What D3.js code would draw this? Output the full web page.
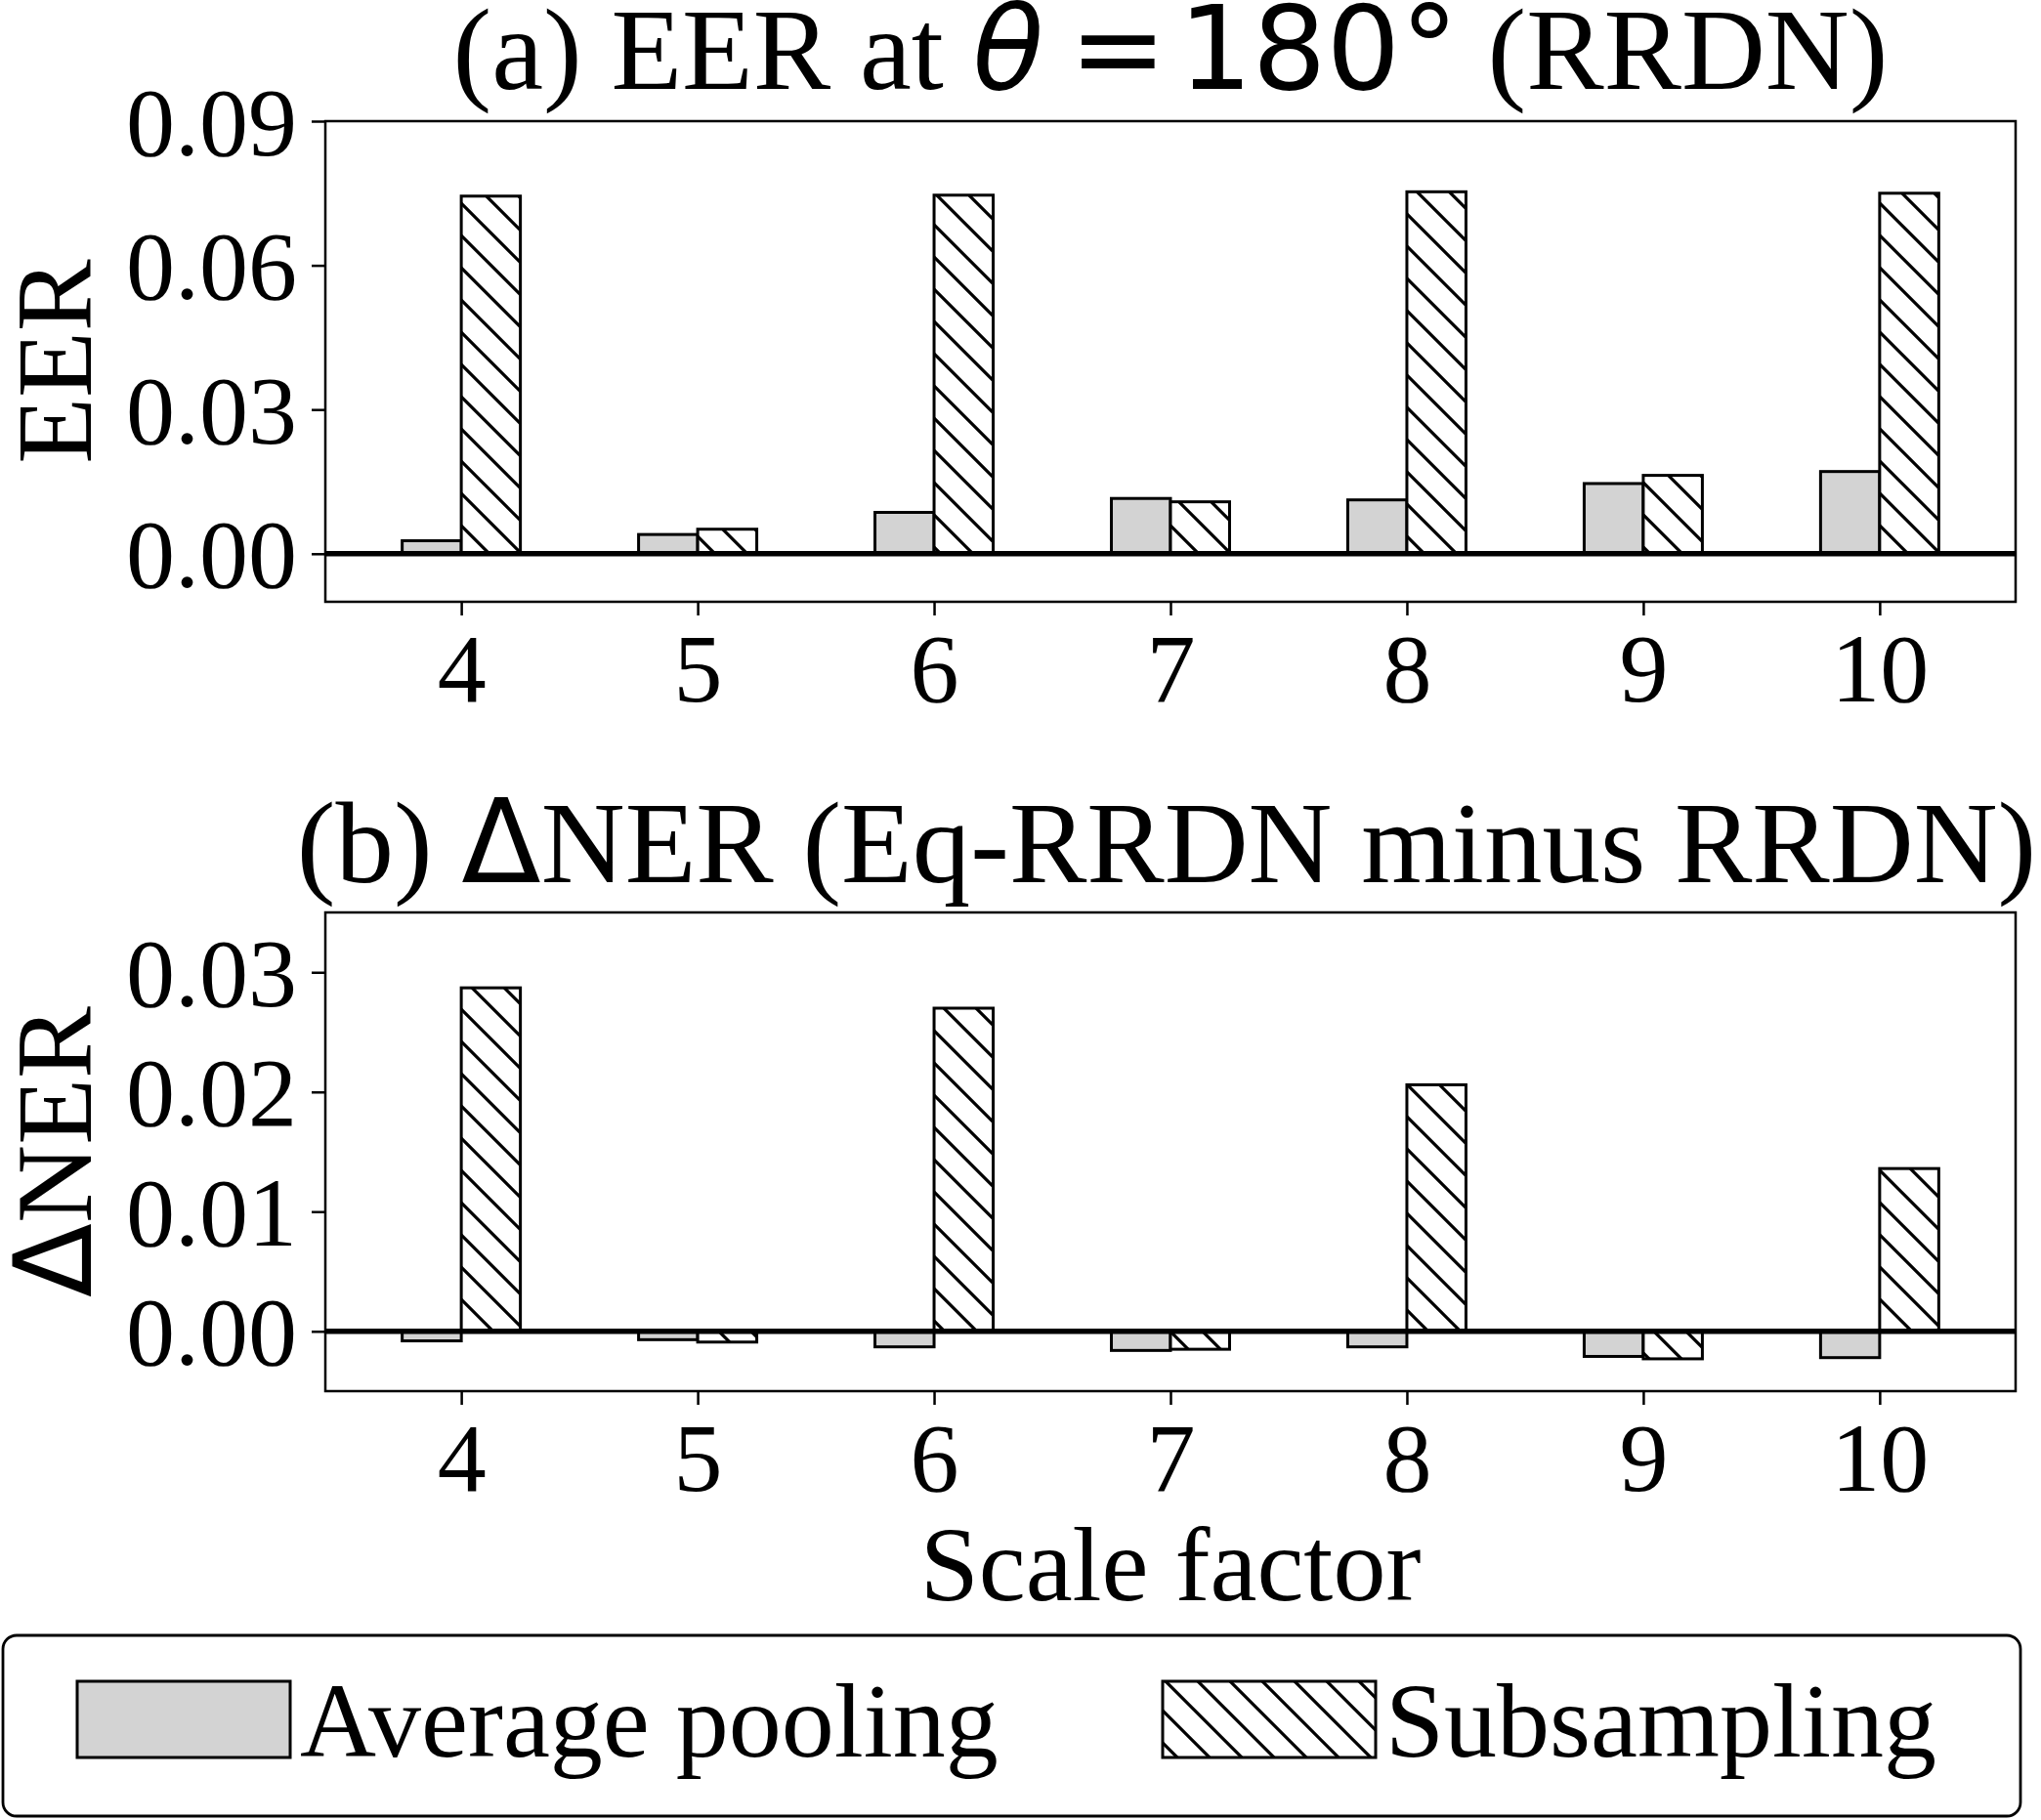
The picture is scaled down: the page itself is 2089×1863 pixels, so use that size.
<!DOCTYPE html>
<html>
<head>
<meta charset="utf-8">
<script src="https://cdn.jsdelivr.net/npm/d3@7"></script>
<style>
  html, body { margin: 0; padding: 0; background: #fff; }
  svg { display: block; }
</style>
</head>
<body>
<div id="chart"></div>
<script>
// values
const scaleFactors = [4, 5, 6, 7, 8, 9, 10];
const eerAvgPool = [0.0027, 0.0040, 0.0086, 0.0115, 0.0112, 0.0146, 0.0171];
const eerSubsample = [0.0744, 0.0051, 0.0746, 0.0108, 0.0753, 0.0163, 0.0750];
const dnerAvgPool = [-0.0008, -0.0007, -0.0013, -0.0016, -0.0013, -0.0021, -0.0022];
const dnerSubsample = [0.0287, -0.0009, 0.0270, -0.0015, 0.0206, -0.0023, 0.0136];
const eerTicks = [0, 0.03, 0.06, 0.09];
const dnerTicks = [0, 0.01, 0.02, 0.03];
const seriesNames = ["Average pooling", "Subsampling"];

const W = 2089;
const H = 1863;
const SERIF = "'Liberation Serif', 'Times New Roman', Times, serif";
const SANS = "'DejaVu Sans', sans-serif";
const BAR_W = 0.25;
const GREY = "#d3d3d3";

const svg = d3
  .select("#chart")
  .append("svg")
  .attr("width", W)
  .attr("height", H)
  .attr("viewBox", `0 0 ${W} ${H}`);

svg.append("rect").attr("width", W).attr("height", H).attr("fill", "#fff");

// hatch like matplotlib "\\"
const hatchStep = 33;
const defs = svg.append("defs");
const pat = defs
  .append("pattern")
  .attr("id", "hatch")
  .attr("patternUnits", "userSpaceOnUse")
  .attr("width", hatchStep)
  .attr("height", hatchStep);
pat.append("rect").attr("width", hatchStep).attr("height", hatchStep).attr("fill", "#fff");
pat
  .append("path")
  .attr("d", [
    `M -4,-4 L ${hatchStep + 4},${hatchStep + 4}`,
    `M -4,${hatchStep - 4} L 4,${hatchStep + 4}`,
    `M ${hatchStep - 4},-4 L ${hatchStep + 4},4`
  ].join(" "))
  .attr("stroke", "#000")
  .attr("stroke-width", 3.2)
  .attr("fill", "none");

const plotLeft = 333;
const plotRight = 2063;

const x = d3
  .scaleLinear()
  .domain([3.425, 10.575])
  .range([plotLeft, plotRight]);

function drawPanel({ top, bottom, yDomain, ticks, avg, sub, ylabel, yLabelDelta }) {
  const y = d3.scaleLinear().domain(yDomain).range([bottom, top]);
  const g = svg.append("g");

  const rows = scaleFactors.map((s, i) => ({ s, avg: avg[i], sub: sub[i] }));

  g.selectAll("rect.avg")
    .data(rows)
    .join("rect")
    .attr("class", "avg")
    .attr("x", (d) => x(d.s - BAR_W))
    .attr("width", (d) => x(d.s) - x(d.s - BAR_W))
    .attr("y", (d) => y(Math.max(0, d.avg)))
    .attr("height", (d) => Math.abs(y(d.avg) - y(0)))
    .attr("fill", GREY)
    .attr("stroke", "#000")
    .attr("stroke-width", 3);

  g.selectAll("rect.sub")
    .data(rows)
    .join("rect")
    .attr("class", "sub")
    .attr("x", (d) => x(d.s))
    .attr("width", (d) => x(d.s + BAR_W) - x(d.s))
    .attr("y", (d) => y(Math.max(0, d.sub)))
    .attr("height", (d) => Math.abs(y(d.sub) - y(0)))
    .attr("fill", "url(#hatch)")
    .attr("stroke", "#000")
    .attr("stroke-width", 3);

  // zero line
  g.append("line")
    .attr("x1", plotLeft)
    .attr("x2", plotRight)
    .attr("y1", y(0))
    .attr("y2", y(0))
    .attr("stroke", "#000")
    .attr("stroke-width", 5.5);

  // frame
  g.append("rect")
    .attr("x", plotLeft)
    .attr("y", top)
    .attr("width", plotRight - plotLeft)
    .attr("height", bottom - top)
    .attr("fill", "none")
    .attr("stroke", "#000")
    .attr("stroke-width", 2.5);

  const yAxis = g
    .append("g")
    .attr("transform", `translate(${plotLeft},0)`)
    .call(
      d3.axisLeft(y)
        .tickValues(ticks)
        .tickFormat(d3.format(".2f"))
        .tickSize(14)
        .tickPadding(15)
    );

  const xAxis = g
    .append("g")
    .attr("transform", `translate(0,${bottom})`)
    .call(
      d3.axisBottom(x)
        .tickValues(scaleFactors)
        .tickFormat(d3.format("d"))
        .tickSize(14)
        .tickPadding(17)
    );

  [yAxis, xAxis].forEach((ax) => {
    ax.select(".domain").remove();
    ax.selectAll(".tick line").attr("stroke", "#000").attr("stroke-width", 2.5);
    ax.selectAll(".tick text")
      .attr("fill", "#000")
      .style("font-family", SERIF)
      .style("font-size", "100px");
  });
  yAxis.selectAll(".tick text").attr("dy", "0.34em");

  const yl = g
    .append("text")
    .attr("transform", `translate(93,${(top + bottom) / 2}) rotate(-90)`)
    .attr("text-anchor", "middle")
    .style("font-family", SERIF)
    .style("font-size", "111px");
  if (yLabelDelta) {
    yl.append("tspan").style("font-family", SANS).text("\u0394");
  }
  yl.append("tspan").text(ylabel);

  return { y };
}

const panelA = { top: 124, bottom: 616 };
const panelB = { top: 934, bottom: 1424 };

drawPanel({
  ...panelA,
  yDomain: [-0.01, 0.09],
  ticks: eerTicks,
  avg: eerAvgPool,
  sub: eerSubsample,
  ylabel: "EER",
  yLabelDelta: false
});

drawPanel({
  ...panelB,
  yDomain: [-0.005, 0.035],
  ticks: dnerTicks,
  avg: dnerAvgPool,
  sub: dnerSubsample,
  ylabel: "NER",
  yLabelDelta: true
});

const midX = (plotLeft + plotRight) / 2;

// title (a)
const tA = svg
  .append("text")
  .attr("x", midX)
  .attr("y", 91)
  .attr("text-anchor", "middle")
  .style("font-family", SERIF)
  .style("font-size", "119px");
tA.append("tspan").text("(a) EER at ");
tA.append("tspan").style("font-family", SANS).style("font-style", "oblique").text("\u03b8");
tA.append("tspan").attr("dx", "0.22em").style("font-family", SANS).text("=");
tA.append("tspan").attr("dx", "0.1em").style("font-family", SANS).text("180\u00b0");
tA.append("tspan").text(" (RRDN)");

// title (b)
const tB = svg
  .append("text")
  .attr("x", midX - 4)
  .attr("y", 903)
  .attr("text-anchor", "middle")
  .style("font-family", SERIF)
  .style("font-size", "119px");
tB.append("tspan").text("(b) ");
tB.append("tspan").style("font-family", SANS).text("\u0394");
tB.append("tspan").text("NER (Eq-RRDN minus RRDN)");

// x label
svg
  .append("text")
  .attr("x", midX)
  .attr("y", 1638)
  .attr("text-anchor", "middle")
  .style("font-family", SERIF)
  .style("font-size", "108px")
  .text("Scale factor");

// legend
const legend = svg.append("g");
legend
  .append("rect")
  .attr("x", 3)
  .attr("y", 1674)
  .attr("width", 2065)
  .attr("height", 185)
  .attr("rx", 14)
  .attr("fill", "#fff")
  .attr("stroke", "#000")
  .attr("stroke-width", 2.8);

const legendItems = seriesNames.map((name, i) => ({
  name,
  fill: i === 0 ? GREY : "url(#hatch)",
  x0: i === 0 ? 79 : 1190
}));

const li = legend
  .selectAll("g.item")
  .data(legendItems)
  .join("g")
  .attr("class", "item");

li.append("rect")
  .attr("x", (d) => d.x0)
  .attr("y", 1721)
  .attr("width", 218)
  .attr("height", 78)
  .attr("fill", (d) => d.fill)
  .attr("stroke", "#000")
  .attr("stroke-width", 3);

li.append("text")
  .attr("x", (d) => d.x0 + 228)
  .attr("y", 1798)
  .style("font-family", SERIF)
  .style("font-size", "108px")
  .text((d) => d.name);
</script>
</body>
</html>
